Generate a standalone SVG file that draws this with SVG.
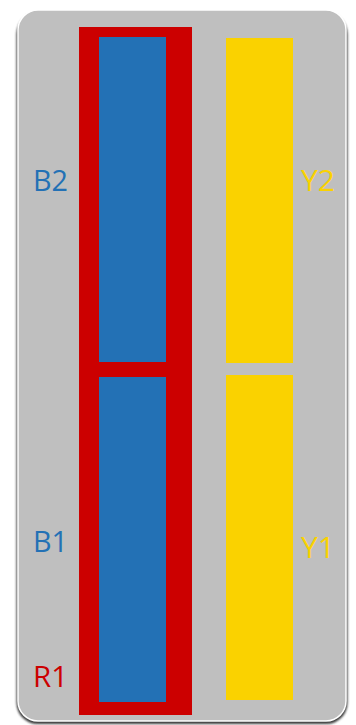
<svg xmlns="http://www.w3.org/2000/svg" width="356" height="725" viewBox="0 0 356 725">
<defs>
<filter id="sh" x="-10%" y="-10%" width="120%" height="120%">
<feGaussianBlur stdDeviation="1"/>
</filter>
<style>
.lbl{font-family:"Open Sans","Liberation Sans",Arial,sans-serif;font-size:30px}
.b{fill:#2371B5}
.y{fill:#FAD200}
.r{fill:#CC0000}
</style>
</defs>
<rect width="356" height="725" fill="#FFFFFF"/>
<g id="panel">
<rect x="16.5" y="13" width="331" height="711" rx="21" fill="#3A3A3A" filter="url(#sh)"/>
<rect x="18" y="10" width="328" height="711" rx="20" fill="#BFBFBF" stroke="#FFFFFF" stroke-width="1.5"/>
</g>
<g id="R1">
<rect class="r" x="79" y="27" width="113" height="688"/>
<text class="lbl r" x="33" y="687" textLength="35" lengthAdjust="spacingAndGlyphs">R1</text>
</g>
<g id="B2">
<rect class="b" x="99" y="37" width="67" height="325"/>
<text class="lbl b" x="33" y="191" textLength="35" lengthAdjust="spacingAndGlyphs">B2</text>
</g>
<g id="B1">
<rect class="b" x="99" y="377" width="67" height="325"/>
<text class="lbl b" x="33" y="552" textLength="35" lengthAdjust="spacingAndGlyphs">B1</text>
</g>
<g id="Y2">
<rect class="y" x="226" y="38" width="67" height="325"/>
<text class="lbl y" x="301" y="191" textLength="34" lengthAdjust="spacingAndGlyphs">Y2</text>
</g>
<g id="Y1">
<rect class="y" x="226" y="375" width="67" height="325"/>
<text class="lbl y" x="301" y="558" textLength="34" lengthAdjust="spacingAndGlyphs">Y1</text>
</g>
<g id="connectors"/>
</svg>
